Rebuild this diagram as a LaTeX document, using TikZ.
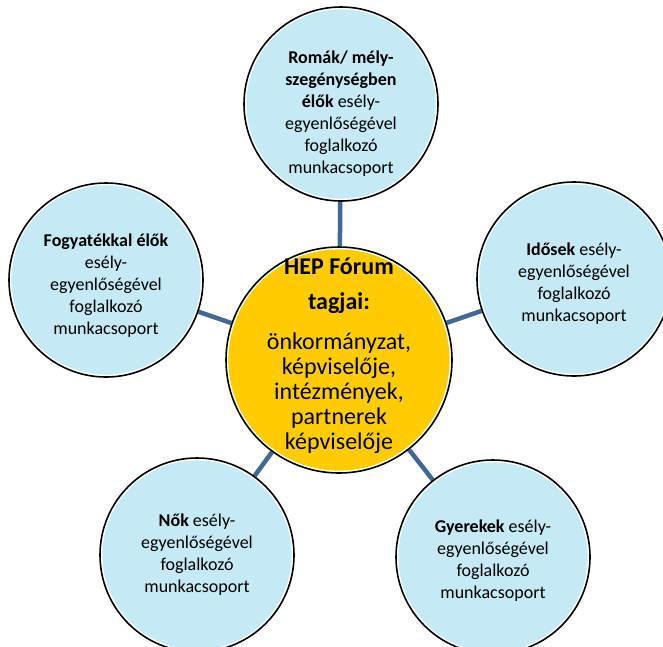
\documentclass[tikz,border=0pt]{standalone}
\usepackage{fontspec}
\setmainfont{Carlito}
\usepackage{xcolor}
\usetikzlibrary{positioning, backgrounds}

\definecolor{groupblue}{RGB}{197,234,245}
\definecolor{forumyellow}{RGB}{255,204,0}
\definecolor{linkblue}{RGB}{66,104,150}

\begin{document}
\begin{tikzpicture}[
  x=1pt, y=-1pt,
  group/.style={circle, draw=black, line width=1.6pt, fill=white, minimum size=194pt,
    inner sep=0pt,
    path picture={\fill[groupblue] (path picture bounding box.center) circle[radius=94.6pt];}},
  grouptext/.style={align=center, inner sep=0pt, font=\fontsize{18}{22}\selectfont},
  forum/.style={circle, draw=black, line width=1.6pt, fill=white, minimum size=226pt,
    inner sep=0pt,
    path picture={\fill[forumyellow] (path picture bounding box.center) circle[radius=110.6pt];}},
  forumtext/.style={align=center, inner sep=0pt, font=\fontsize{24}{25}\selectfont},
  link/.style={draw=linkblue, line width=4.5pt}
]
\useasboundingbox (0,0) rectangle (663,646);

\node[forum] (hep) at (339,360) {};
\node[forumtext] (heptxt) at (339,356) {\textbf{HEP Fórum}\\[10pt]
  \textbf{tagjai:}\\[15pt]
  önkormányzat,\\ képviselője,\\ intézmények,\\ partnerek\\ képviselője};

% the five working groups
\node[group] (romak) at (341,104) {};
\node[grouptext] (romaktxt) at (341,114) {\textbf{Romák/ mély-}\\ \textbf{szegénységben}\\
  \textbf{élők} esély-\\ egyenlőségével\\ foglalkozó\\ munkacsoport};
\node[group] (fogyatek) at (106,280) {};
\node[grouptext] (fogyatektxt) at (106,286) {\textbf{Fogyatékkal élők}\\ esély-\\
  egyenlőségével\\ foglalkozó\\ munkacsoport};
\node[group] (idosek) at (574,279) {};
\node[grouptext] (idosektxt) at (574,284) {\textbf{Idősek} esély-\\ egyenlőségével\\
  foglalkozó\\ munkacsoport};
\node[group] (nok) at (197,555) {};
\node[grouptext] (noktxt) at (197,555) {\textbf{Nők} esély-\\ egyenlőségével\\
  foglalkozó\\ munkacsoport};
\node[group] (gyerekek) at (493,557) {};
\node[grouptext] (gyerekektxt) at (493,561) {\textbf{Gyerekek} esély-\\ egyenlőségével\\
  foglalkozó\\ munkacsoport};

% connectors behind the circles
\begin{scope}[on background layer]
  \foreach \g in {romak, fogyatek, idosek, nok, gyerekek}
    \draw[link] (hep) -- (\g);
\end{scope}
\end{tikzpicture}
\end{document}
